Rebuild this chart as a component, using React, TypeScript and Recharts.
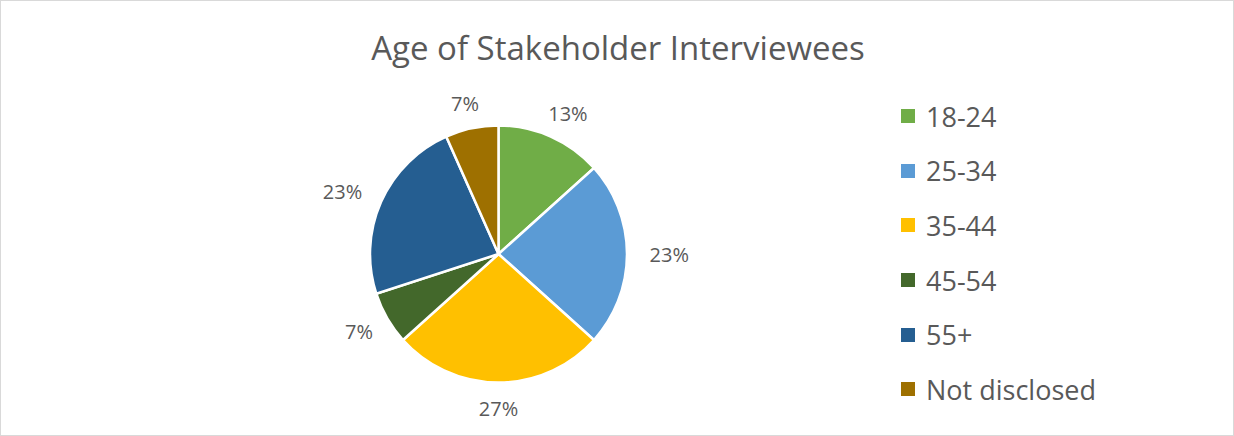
import { Legend, Pie, PieChart, Cell } from 'recharts'

const ageGroups = ['18-24', '25-34', '35-44', '45-54', '55+', 'Not disclosed']
const interviewees = [4, 7, 8, 2, 7, 2]
const sliceColors = ['#70AD47', '#5B9BD5', '#FFC000', '#43682B', '#255E91', '#9E7000']

const FONT = '"Open Sans", sans-serif'
const TEXT = '#595959'
const RAD = Math.PI / 180

const data = ageGroups.map((name, i) => ({ name, value: interviewees[i] }))

// Excel-style outside labels: box edge sits a fixed gap from the rim
function renderLabel(props: any) {
  const { cx, cy, midAngle, outerRadius, percent } = props
  const text = `${Math.round(percent * 100)}%`
  const gap = 13
  const w = text.length * 19.5
  const h = 25
  const cos = Math.cos(-midAngle * RAD)
  const sin = Math.sin(-midAngle * RAD)
  const x = cx + (outerRadius + gap) * cos + (cos * w) / 2
  const y = cy + (outerRadius + gap) * sin + (sin * h) / 2
  return (
    <text
      x={x}
      y={y}
      fill={TEXT}
      fontSize={20}
      fontFamily={FONT}
      textAnchor="middle"
      dominantBaseline="central"
    >
      {text}
    </text>
  )
}

function LegendBox({ payload }: any) {
  return (
    <div style={{ fontFamily: FONT, color: TEXT, fontSize: 27 }}>
      {(payload || []).map((p: any) => (
        <div key={p.value} style={{ display: 'flex', alignItems: 'center', height: 54.6 }}>
          <span style={{ width: 14, height: 14, background: p.color, marginRight: 11 }} />
          <span>{p.value}</span>
        </div>
      ))}
    </div>
  )
}

export default function App() {
  return (
    <div
      style={{
        position: 'absolute',
        left: 0,
        top: 0,
        width: 1234,
        height: 436,
        boxSizing: 'border-box',
        border: '1px solid #D9D9D9',
        background: '#fff',
      }}
    >
      <div
        style={{
          position: 'absolute',
          left: 0,
          top: 25,
          width: 1234,
          textAlign: 'center',
          fontFamily: FONT,
          fontSize: 33,
          color: TEXT,
          lineHeight: '44px',
        }}
      >
        Age of Stakeholder Interviewees
      </div>
      <div style={{ position: 'absolute', left: -1, top: -1 }}>
        <PieChart width={1234} height={436} margin={{ top: 0, right: 0, bottom: 0, left: 0 }}>
          <Pie
            data={data}
            dataKey="value"
            nameKey="name"
            cx={498.5}
            cy={254}
            outerRadius={128.5}
            startAngle={90}
            endAngle={-270}
            stroke="#fff"
            strokeWidth={2.5}
            label={renderLabel}
            labelLine={false}
            isAnimationActive={false}
          >
            {data.map((d, i) => (
              <Cell key={d.name} fill={sliceColors[i]} />
            ))}
          </Pie>
          <Legend
            layout="vertical"
            align="right"
            verticalAlign="middle"
            content={<LegendBox />}
            wrapperStyle={{ left: 901, top: 89, width: 300 }}
          />
        </PieChart>
      </div>
    </div>
  )
}
